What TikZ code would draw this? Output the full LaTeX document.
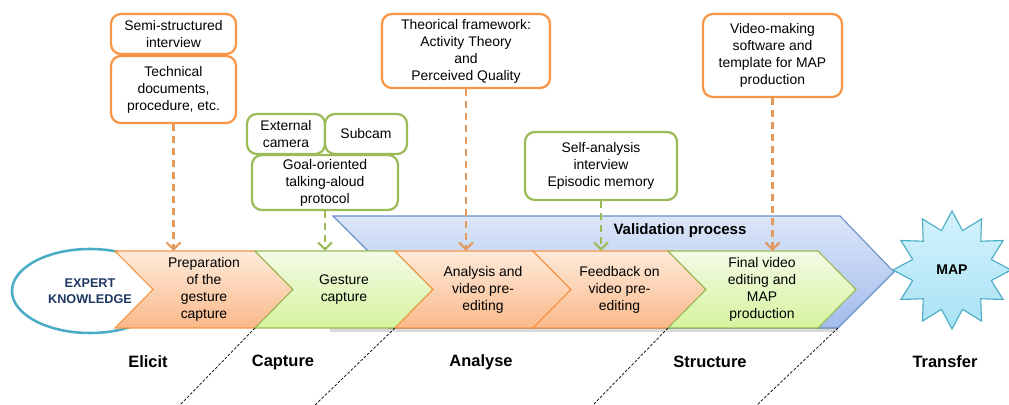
\documentclass[tikz,border=0pt]{standalone}
\usepackage{fontspec}
\setmainfont{Liberation Sans}
\usepackage{tikz}
\usetikzlibrary{shapes.geometric, arrows.meta, calc}
\definecolor{boxorange}{HTML}{F79646}
\definecolor{boxgreen}{HTML}{9BBB59}
\definecolor{feedorange}{HTML}{E39A5F}
\definecolor{peachtop}{HTML}{FDEADA}
\definecolor{peachbottom}{HTML}{FAB98A}
\definecolor{limetop}{HTML}{F3FBE6}
\definecolor{limebottom}{HTML}{D6F39E}
\definecolor{valtop}{HTML}{DCE6F9}
\definecolor{valbottom}{HTML}{A3BCEB}
\definecolor{valedge}{HTML}{6D8FC8}
\definecolor{skyedge}{HTML}{4BACC6}
\definecolor{skytop}{HTML}{D3F2FC}
\definecolor{skybottom}{HTML}{A9E2F5}
\definecolor{navytext}{HTML}{1F3864}

\begin{document}
\begin{tikzpicture}[x=0.025cm, y=-0.025cm,
  boxtext/.style={font=\fontsize{9.9}{12.1}\selectfont, align=center},
  infobox/.style={boxtext, draw, line width=1.6pt, rounded corners=7pt, fill=white, inner sep=1pt},
  orangebox/.style={infobox, draw=boxorange},
  greenbox/.style={infobox, draw=boxgreen},
  feed/.style={line width=2pt, dash pattern=on 5pt off 3.5pt, -{Straight Barb[length=5pt, width=10pt, line width=1.6pt]}},
  orangestep/.style={top color=peachtop, bottom color=peachbottom, draw=boxorange, line width=0.8pt},
  greenstep/.style={top color=limetop, bottom color=limebottom, draw=boxgreen, line width=0.8pt},
  phase/.style={font=\fontsize{11.7}{14}\selectfont\bfseries}]
  \useasboundingbox (0,0) rectangle (1009,405);

  % Expert knowledge
  \node[ellipse, draw=skyedge, line width=1.8pt, fill=white, minimum width=3.9cm, minimum height=2.1cm,
        text=navytext, font=\fontsize{9}{11.4}\selectfont\bfseries, align=center] (expert) at (90,291) {EXPERT\\KNOWLEDGE};

  % Validation process band
  \shade[top color=valtop, bottom color=valbottom, draw=valedge, line width=0.8pt]
    (333,216) -- (840,216) -- (894,272) -- (838,328) -- (389,328) -- (389,272) -- cycle;
  \node[font=\fontsize{10.7}{12}\selectfont\bfseries] (valid) at (680,231) {Validation process};

  % Shadow under the steps
  \fill[black, opacity=0.15] (330,328) rectangle (838,332);

  % Process steps
  \foreach \a/\b/\kind/\name/\txt in {
      115/255/orangestep/prep/{Preparation\\of the\\gesture\\capture},
      255/395/greenstep/gesture/{Gesture\\capture},
      395/533/orangestep/analysis/{Analysis and\\video pre-\\editing},
      533/668/orangestep/feedback/{Feedback on\\video pre-\\editing},
      668/818/greenstep/final/{Final video\\editing and\\MAP\\production}} {
    \path[\kind] (\a,251) -- (\b,251) -- (\b+38,289.5) -- (\b,328) -- (\a,328) -- (\a+38,289.5) -- cycle;
    \node[boxtext] (\name) at ({(\a+\b)/2+19},289.5) {\txt};
  }
  \coordinate (bandtop) at (0,251);

  % MAP
  \node[star, star points=12, star point ratio=1.45, minimum size=2.95cm, inner sep=0pt,
        top color=skytop, bottom color=skybottom, draw=skyedge, line width=0.8pt,
        font=\fontsize{10}{12}\selectfont\bfseries] (map) at (952,270) {MAP};

  % Inputs
  \node[orangebox, minimum width=3.125cm, minimum height=1cm] (interview) at (173.5,34) {Semi-structured\\interview};
  \node[orangebox, minimum width=3.125cm, minimum height=1.675cm] (tech) at (173.5,89.5) {Technical\\documents,\\procedure, etc.};
  \node[greenbox, minimum width=1.95cm, minimum height=1cm] (extcam) at (286,134) {External\\camera};
  \node[greenbox, minimum width=2.05cm, minimum height=1cm] (subcam) at (366,134) {Subcam};
  \node[greenbox, minimum width=3.65cm, minimum height=1.375cm] (protocol) at (325,182.5) {Goal-oriented\\talking-aloud\\protocol};
  \node[orangebox, minimum width=4.2cm, minimum height=1.85cm] (theory) at (466,51) {Theorical framework:\\Activity Theory\\and\\Perceived Quality};
  \node[greenbox, minimum width=3.8cm, minimum height=1.7cm] (selfan) at (601,166) {Self-analysis\\interview\\Episodic memory};
  \node[orangebox, minimum width=3.475cm, minimum height=2.075cm] (software) at (772.5,55.5) {Video-making\\software and\\template for MAP\\production};

  % Feeds into the steps
  \draw[feed, feedorange] (tech.south) -- (tech.south |- bandtop);
  \draw[feed, boxgreen] (protocol.south) -- (protocol.south |- bandtop);
  \draw[feed, feedorange] (theory.south) -- (theory.south |- bandtop);
  \draw[feed, boxgreen] (selfan.south) -- (selfan.south |- bandtop);
  \draw[feed, feedorange] (software.south) -- (software.south |- bandtop);

  % Phase separators
  \foreach \x/\y in {255/180, 395/315, 668/593, 838/757}
    \draw[dashed, dash pattern=on 2pt off 1.2pt, line width=0.5pt] (\x,328) -- (\y,405);

  % Phases
  \node[phase] (elicit) at (148,362) {Elicit};
  \node[phase] (capture) at (283,362) {Capture};
  \node[phase] (analyse) at (481,362) {Analyse};
  \node[phase] (structure) at (710,362) {Structure};
  \node[phase] (transfer) at (945,362) {Transfer};
\end{tikzpicture}
\end{document}
